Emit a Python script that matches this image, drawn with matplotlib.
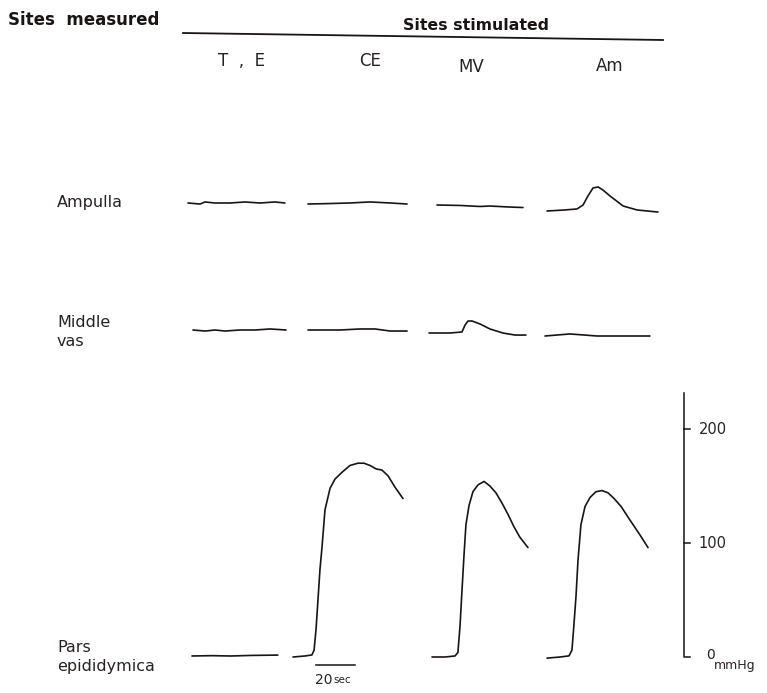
import numpy as np
import matplotlib
matplotlib.use("Agg")
import matplotlib.pyplot as plt
from matplotlib.transforms import Affine2D

plt.rcParams['font.family'] = ['DejaVu Sans']

# pressure traces: time (sec) and pressure (mmHg)
# row: Ampulla
amp_te_t = [0, 6.2, 8.7, 13.8, 21.5, 29.2, 36.9, 44.6, 49.7]
amp_te_p = [0, -0.9, 0.9, 0, 0, 0.9, 0, 0.9, 0]
amp_ce_t = [0, 11.3, 21.5, 31.8, 42.1, 50.8]
amp_ce_p = [0, 0.4, 0.9, 1.8, 0.9, 0]
amp_mv_t = [0, 11.8, 22.1, 27.2, 37.4, 44.1]
amp_mv_p = [0, -0.4, -1.3, -0.9, -1.8, -2.2]
amp_am_t = [0, 9.2, 15.4, 18.5, 21.0, 23.6, 26.2, 28.7, 32.3, 39.0, 46.2, 56.9]
amp_am_p = [0, 0.9, 1.8, 5.3, 13.2, 20.2, 21.1, 18.4, 13.2, 4.4, 0.9, -0.9]

# row: Middle vas
mid_te_t = [0, 6.2, 11.3, 16.4, 24.1, 31.8, 39.5, 47.7]
mid_te_p = [0, -0.9, 0, -0.9, 0, 0, 0.9, 0]
mid_ce_t = [0, 16.4, 26.7, 34.4, 42.1, 50.8]
mid_ce_p = [0, 0, 0.9, 0.9, -0.9, -0.9]
mid_mv_t = [0, 10.8, 16.9, 18.5, 20.0, 22.1, 26.2, 31.3, 37.9, 44.1, 49.7]
mid_mv_p = [0, 0, 0.9, 7.0, 10.5, 10.5, 7.9, 3.5, 0, -1.8, -1.8]
mid_am_t = [0, 12.8, 26.7, 38.5, 53.8]
mid_am_p = [0, 1.8, 0, 0, 0]

# row: Pars epididymica
par_te_t = [0, 10, 20, 30, 44]
par_te_p = [0, 0.3, 0, 0.5, 0.8]
par_ce_t = [0, 6.2, 9.7, 10.8, 11.8, 12.8, 13.8, 14.9, 16.4, 19.0, 21.5, 25.1,
            29.2, 33.3, 36.4, 39.5, 42.6, 45.6, 48.7, 52.3, 56.4]
par_ce_p = [0, 0.9, 1.8, 6, 24, 50, 76, 97, 129, 148, 156, 162,
            168, 170, 170, 168, 165, 164, 159, 149, 139]
par_mv_t = [0, 6.7, 11.8, 13.3, 14.4, 15.4, 16.4, 17.4, 19.0, 21.0, 23.6, 26.7,
            29.7, 32.8, 35.9, 39.0, 42.1, 45.1, 49.2]
par_mv_p = [0, 0, 0.9, 4, 28, 59, 89, 116, 133, 145, 151, 154,
            150, 144, 135, 125, 114, 105, 96]
par_am_t = [0, 6.7, 11.3, 12.8, 13.8, 14.9, 15.9, 17.4, 19.5, 22.1, 25.1, 28.2,
            31.3, 34.4, 38.0, 42.6, 47.7, 51.8]
par_am_p = [-1, 0, 1, 6, 28, 54, 85, 116, 132, 140, 145, 146,
            144, 139, 132, 120, 107, 96]

row_labels = ["Ampulla", "Middle\nvas", "Pars\nepididymica"]
col_labels = ["T  ,  E", "CE", "MV", "Am"]
scale_ticks = [100, 200]
scale_top = 232
time_bar = 20

traces = [
    [(amp_te_t, amp_te_p), (amp_ce_t, amp_ce_p), (amp_mv_t, amp_mv_p), (amp_am_t, amp_am_p)],
    [(mid_te_t, mid_te_p), (mid_ce_t, mid_ce_p), (mid_mv_t, mid_mv_p), (mid_am_t, mid_am_p)],
    [(par_te_t, par_te_p), (par_ce_t, par_ce_p), (par_mv_t, par_mv_p), (par_am_t, par_am_p)],
]

# layout (pixels): start of each trace
starts = [
    [(188, 203), (308, 204), (437, 205), (547, 211)],
    [(193, 330), (308, 330), (429, 333), (545, 336)],
    [(192, 656), (293, 657), (432, 657), (547, 657)],
]
SEC_PX = 1.95
MMHG_PX = 1.14
ink = '#1a1414'
txt = '#2a2222'

fig = plt.figure(figsize=(7.67, 6.93), dpi=100)
ax = fig.add_axes([0, 0, 1, 1])
ax.set_xlim(0, 767)
ax.set_ylim(693, 0)
ax.axis('off')


def place(x0, y0):
    return Affine2D().scale(SEC_PX, -MMHG_PX).translate(x0, y0) + ax.transData


for r in range(3):
    for c in range(4):
        t, p = traces[r][c]
        x0, y0 = starts[r][c]
        ax.plot(t, p, color=ink, lw=1.2, solid_capstyle='round',
                transform=place(x0, y0))

# pressure scale
tr = place(684, 657)
ax.plot([3, 0, 0], [0, 0, scale_top], color=ink, lw=1.1, transform=tr)
for v in scale_ticks:
    ax.plot([0, 3], [v, v], color=ink, lw=1.1, transform=tr)
    ax.text(7.5, v, str(v), transform=tr, fontsize=10.5, va='center', ha='left',
            color=txt)
ax.text(11.5, 1.5, "0", transform=tr, fontsize=10, va='center', ha='left', color=txt)
ax.text(15.5, -1.5, "mmHg", transform=tr, fontsize=9, va='top', ha='left', color=txt)

# time bar
tb = place(316, 665)
ax.plot([0, time_bar], [0, 0], color=ink, lw=1.1, transform=tb)
ax.text(-0.5, -13, "20", transform=tb, fontsize=10, va='center', ha='left', color=txt)
ax.text(8.7, -13.5, "sec", transform=tb, fontsize=7.5, va='center', ha='left', color=txt)

# headings
ax.text(8, 20, "Sites  measured", fontsize=12, fontweight='bold', va='center', ha='left',
        color=ink)
ax.text(403, 26, "Sites stimulated", fontsize=11.3, fontweight='bold', va='center',
        ha='left', color=ink)
ax.plot([183, 663], [33, 40], color=ink, lw=1.3)

col_x = [241, 370, 471, 610]
col_y = [61, 61, 67, 66]
for lab, x, y in zip(col_labels, col_x, col_y):
    ax.text(x, y, lab, fontsize=12, ha='center', va='center', color=txt)

row_y = [203, 332, 657]
for lab, y in zip(row_labels, row_y):
    ax.text(57, y, lab, fontsize=11.5, ha='left', va='center', color=txt,
            linespacing=1.3)

fig.savefig("out.png", dpi=100)
